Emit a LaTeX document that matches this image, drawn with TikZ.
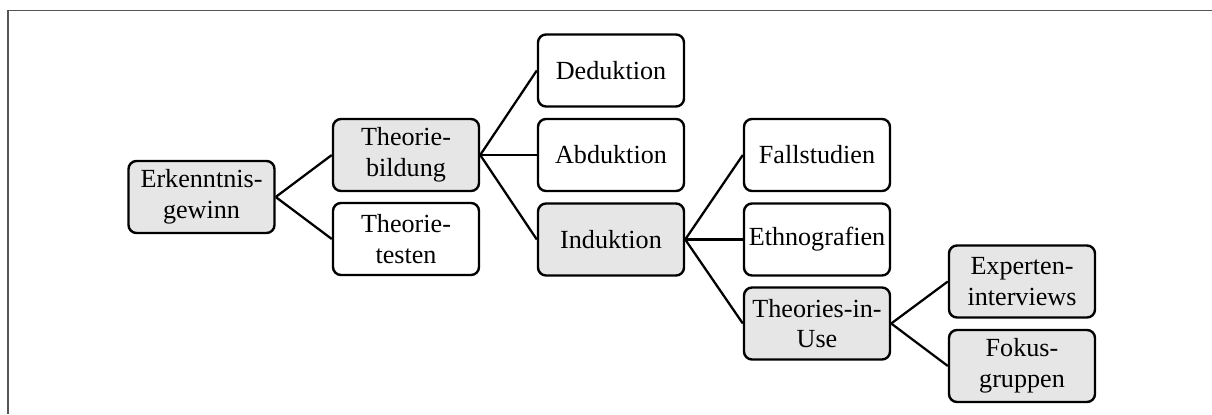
\documentclass[tikz,border=0pt]{standalone}
\usepackage{fontspec}
\setmainfont{Liberation Serif}
\definecolor{boxgray}{HTML}{E6E6E6}
\definecolor{framegray}{HTML}{555555}
\begin{document}
\begin{tikzpicture}[x=0.75pt,y=-0.75pt,
  box/.style={draw=black, line width=1.8pt, rounded corners=6pt,
    minimum width=109.5pt, minimum height=54pt, inner sep=1pt,
    align=center, font=\fontsize{19.6}{23}\selectfont},
  hl/.style={box, fill=boxgray},
  plain/.style={box, fill=white},
  link/.style={line width=1.7pt, draw=black}]
  \useasboundingbox (0,0) rectangle (1212,414);
  % frame along the top and left edges
  \draw[framegray, line width=0.9pt] (1212,10.5) -- (8,10.5) -- (8,414);

  \node[hl]    (erk) at (201.5,197)   {Erkenntnis-\\gewinn};
  \node[hl]    (tb)  at (406,155)     {Theorie-\\bildung};
  \node[plain] (tt)  at (406,239)     {Theorie-\\testen};
  \node[plain] (ded) at (611,70.5)    {Deduktion};
  \node[plain] (abd) at (611,155)     {Abduktion};
  \node[hl]    (ind) at (611,239.5)   {Induktion};
  \node[plain] (fal) at (817,155)     {Fallstudien};
  \node[plain] (eth) at (817,239.5)   {Ethnografien};
  \node[hl]    (tiu) at (817,323.5)   {Theories-in-\\Use};
  \node[hl]    (exp) at (1022,281.5)  {Experten-\\interviews};
  \node[hl]    (fok) at (1022,366)    {Fokus-\\gruppen};

  \draw[link] (erk.east) -- (tb.west);
  \draw[link] (erk.east) -- (tt.west);
  \draw[link] (tb.east) -- (ded.west);
  \draw[link] (tb.east) -- (abd.west);
  \draw[link] (tb.east) -- (ind.west);
  \draw[link] (ind.east) -- (fal.west);
  \draw[link] (ind.east) -- (eth.west);
  \draw[link] (ind.east) -- (tiu.west);
  \draw[link] (tiu.east) -- (exp.west);
  \draw[link] (tiu.east) -- (fok.west);
\end{tikzpicture}
\end{document}
